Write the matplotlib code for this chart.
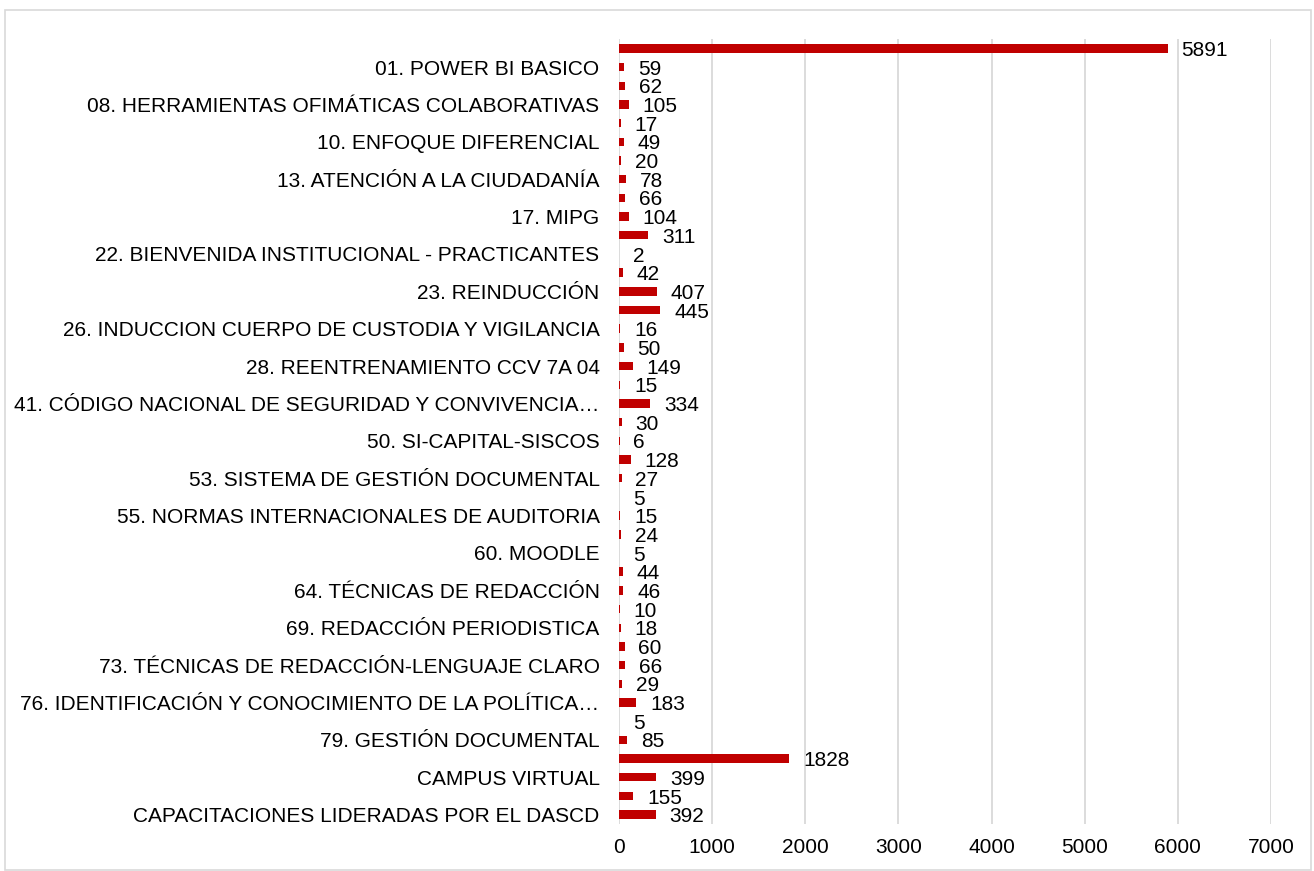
import matplotlib
matplotlib.use("Agg")
import matplotlib.pyplot as plt
from matplotlib.patches import Rectangle

plt.rcParams['font.family'] = ['Liberation Sans', 'DejaVu Sans']

# values from top to bottom
values = [5891, 59, 62, 105, 17, 49, 20, 78, 66, 104, 311, 2, 42, 407, 445, 16,
          50, 149, 15, 334, 30, 6, 128, 27, 5, 15, 24, 5, 44, 46, 10, 18, 60, 66,
          29, 183, 5, 85, 1828, 399, 155, 392]

# only every second category label is visible in the chart
labels = [
    "01. POWER BI BASICO",
    "08. HERRAMIENTAS OFIMÁTICAS COLABORATIVAS",
    "10. ENFOQUE DIFERENCIAL",
    "13. ATENCIÓN A LA CIUDADANÍA",
    "17. MIPG",
    "22. BIENVENIDA INSTITUCIONAL - PRACTICANTES",
    "23. REINDUCCIÓN",
    "26. INDUCCION CUERPO DE CUSTODIA Y VIGILANCIA",
    "28. REENTRENAMIENTO CCV 7A 04",
    "41. CÓDIGO NACIONAL DE SEGURIDAD Y CONVIVENCIA…",
    "50. SI-CAPITAL-SISCOS",
    "53. SISTEMA DE GESTIÓN DOCUMENTAL",
    "55. NORMAS INTERNACIONALES DE AUDITORIA",
    "60. MOODLE",
    "64. TÉCNICAS DE REDACCIÓN",
    "69. REDACCIÓN PERIODISTICA",
    "73. TÉCNICAS DE REDACCIÓN-LENGUAJE CLARO",
    "76. IDENTIFICACIÓN Y CONOCIMIENTO DE LA POLÍTICA…",
    "79. GESTIÓN DOCUMENTAL",
    "CAMPUS VIRTUAL",
    "CAPACITACIONES LIDERADAS POR EL DASCD",
]

xticks = [0, 1000, 2000, 3000, 4000, 5000, 6000, 7000]

fig = plt.figure(figsize=(13.14, 8.71), dpi=100)
ax = fig.add_axes([619 / 1314, 1 - 824 / 871, (1271 - 619) / 1314, (824 - 39) / 871])

n = len(values)
ypos = list(range(n))
ax.barh(ypos, values, height=0.45, color='#C00000', zorder=3)
for y, v in zip(ypos, values):
    ax.annotate(str(v), (v, y), xytext=(10, -1.5), textcoords='offset points',
                ha='left', va='center', fontsize=15, color='#000000')

ax.set_ylim(n - 0.5, -0.5)
ax.set_xlim(0, 7000)
ax.set_yticks(ypos[1::2])
ax.set_yticklabels(labels, fontsize=15)
ax.set_xticks(xticks)
ax.set_xticklabels([str(t) for t in xticks], fontsize=15)
ax.tick_params(axis='both', length=0)
ax.tick_params(axis='y', pad=14)
ax.tick_params(axis='x', pad=10)
ax.grid(axis='x', color='#D9D9D9', linewidth=1.3, zorder=0)
for s in ax.spines.values():
    s.set_visible(False)

fig.patches.append(Rectangle((5 / 1314, 1 / 871), 1306 / 1314, 1 - 11 / 871,
                             transform=fig.transFigure, fill=False,
                             edgecolor='#D9D9D9', linewidth=1.2))

fig.savefig("out.png", dpi=100)
